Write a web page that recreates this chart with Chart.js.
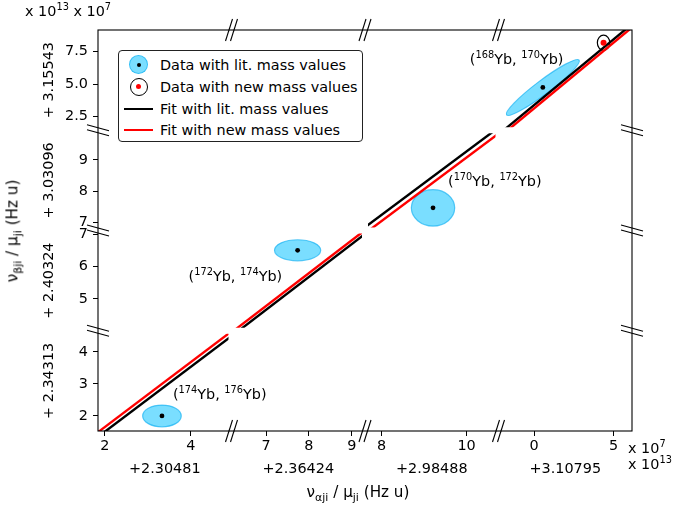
<!DOCTYPE html>
<html>
<head>
<meta charset="utf-8">
<script src="https://cdn.jsdelivr.net/npm/chart.js@4.4.0/dist/chart.umd.min.js"></script>
<style>
  html, body { margin: 0; padding: 0; background: #fff; }
  #wrap { position: relative; width: 673px; height: 506px; font-family: 'DejaVu Sans', sans-serif; color: #000; }
  #wrap canvas { position: absolute; left: 0; top: 0; }
  .txt { position: absolute; font-size: 14.4px; white-space: nowrap; line-height: 1; }
  .txt sup, .txt sub { font-size: 68%; line-height: 0; }
  .axlabel { font-size: 15.2px; }
  .axlabel sub { font-size: 72%; }
  #legend { position: absolute; left: 118px; top: 50px; width: 243px; height: 90px; border: 1px solid #222; border-radius: 4px; background: #fff; font-size: 14.4px; }
  #legend .row { position: absolute; left: 41px; height: 18px; line-height: 18px; white-space: nowrap; }
  #legend .sym { position: absolute; box-sizing: border-box; border-radius: 50%; }
  #legend .ln { position: absolute; left: 5px; width: 29px; height: 2px; }
</style>
</head>
<body>
<div id="wrap">
  <canvas id="kingPlot" width="673" height="506"></canvas>
  <div class="txt" style="left:25px; top:4px;">x 10<sup>13</sup> x 10<sup>7</sup></div>
  <div class="txt" style="left:628px; top:441px;">x 10<sup>7</sup></div>
  <div class="txt" style="left:628px; top:457px;">x 10<sup>13</sup></div>
  <div class="txt axlabel" style="left:13px; top:231px; transform: translate(-50%, -50%) rotate(-90deg);">ν<sub>βji</sub> / μ<sub>ji</sub> (Hz u)</div>
  <div class="txt axlabel" style="left:358px; top:493px; transform: translate(-50%, -50%);">ν<sub>αji</sub> / μ<sub>ji</sub> (Hz u)</div>
  <div id="legend">
    <div class="sym" style="left:10px; top:4px; width:19px; height:19px; background:rgba(0,191,255,0.52); border:1px solid rgba(0,170,240,0.6);"></div>
    <div class="sym" style="left:17.5px; top:11.5px; width:4px; height:4px; background:#000;"></div>
    <div class="row" style="top:5px;">Data with lit. mass values</div>
    <div class="sym" style="left:11px; top:26.5px; width:18px; height:18px; background:#fff; border:1.2px solid #000;"></div>
    <div class="sym" style="left:17px; top:32.5px; width:5px; height:5px; background:#f00;"></div>
    <div class="row" style="top:26.5px;">Data with new mass values</div>
    <div class="ln" style="top:56.5px; background:#000;"></div>
    <div class="row" style="top:49px;">Fit with lit. mass values</div>
    <div class="ln" style="top:77.5px; background:#f00;"></div>
    <div class="row" style="top:70px;">Fit with new mass values</div>
  </div>
</div>
<script>
// King plot with broken axes: 4 x panels, 4 y panels.
// Values in units of 1e7 Hz u, panel offsets in units of 1e13 Hz u.
const xOffsets = [2.30481, 2.36424, 2.98488, 3.10795];
const yOffsets = [2.34313, 2.40324, 3.03096, 3.15543];
const xRanges = [[1.84, 4.95], [6.19, 9.31], [7.61, 10.75], [-2.24, 6.16]];
const yRanges = [[1.53, 4.66], [4.02, 7.11], [6.75, 9.94], [1.46, 9.17]];
const xTicks = [[2, 4], [7, 8, 9], [8, 10], [0, 5]];
const yTicks = [[2, 3, 4], [5, 6, 7], [7, 8, 9], [2.5, 5.0, 7.5]];

// isotope pairs, one per panel
const pairA = ['174', '172', '170', '168'];
const pairB = ['176', '174', '172', '170'];

// data with literature mass values (centre, 1 sigma, correlation)
const litX = [3.33, 7.735, 9.21, 0.55];
const litY = [2.0, 6.50, 7.47, 4.75];
const litSigX = [0.45, 0.54, 0.51, 2.30];
const litSigY = [0.34, 0.325, 0.58, 2.15];
const litCorr = [0, 0, 0, 0.95];

// data with new mass values (only the one inside the plotted windows)
const newPanel = [3];
const newX = [4.37];
const newY = [8.19];
const newSigX = [0.39];
const newSigY = [0.58];

// linear fits, absolute units of 1e7 Hz u: pivot point and slope
const litFit = { x0: 2304812.07, y0: 2343131.58, slope: 1.0114101 };
const newFit = { x0: 2304812.35, y0: 2343132.01, slope: 1.0114096 };

const xIds = ['x1', 'x2', 'x3', 'x4'];
const yIds = ['y1', 'y2', 'y3', 'y4'];
const font = { family: "'DejaVu Sans', sans-serif", size: 14.4 };

// y value (panel units) of a fit at panel-local x
function fitY(fit, p, x) {
    return fit.y0 + fit.slope * (xOffsets[p] * 1e6 + x - fit.x0) - yOffsets[p] * 1e6;
}

// Builds the stacked axes of every panel
function buildScales() {
    var scales = {};
    xIds.forEach(function (id, i) {
        scales[id] = {
            type: 'linear', position: 'bottom', stack: 'xPanels',
            min: xRanges[i][0], max: xRanges[i][1],
            afterBuildTicks: s => { s.ticks = xTicks[i].map(v => ({ value: v })); },
            afterFit: s => { s.height = 75; },
            ticks: { font, color: '#000', padding: 2, maxRotation: 0, autoSkip: false, callback: v => String(v) },
            grid: { drawOnChartArea: false, tickLength: 5, color: '#000', lineWidth: 1 },
            border: { display: false },
            title: { display: true, text: '+' + xOffsets[i].toFixed(5), font, color: '#000', padding: { top: 0, bottom: 28.4 } }
        };
    });
    yIds.forEach(function (id, i) {
        scales[id] = {
            type: 'linear', position: 'left', stack: 'yPanels',
            min: yRanges[i][0], max: yRanges[i][1],
            afterBuildTicks: s => { s.ticks = yTicks[i].map(v => ({ value: v })); },
            afterFit: s => { s.width = 98; },
            ticks: { font, color: '#000', padding: 5, autoSkip: false, callback: v => (i === 3 ? v.toFixed(1) : String(v)) },
            grid: { drawOnChartArea: false, tickLength: 5, color: '#000', lineWidth: 1 },
            border: { display: false },
            title: { display: true, text: '+ ' + yOffsets[i].toFixed(5), font, color: '#000', padding: { top: 40.9, bottom: 0 } }
        };
    });
    return scales;
}

function buildDatasets() {
    var datasets = [];
    xIds.forEach(function (xid, p) {
        // clip inside the panel at inner breaks, keep outer frame
        var clip = { left: p === 0 ? 0 : -3, right: p === 3 ? 0 : -3, bottom: p === 0 ? 0 : -3, top: p === 3 ? 0 : -3 };
        datasets.push({
            label: 'Fit with lit. mass values', order: 2, showLine: true, pointRadius: 0,
            borderColor: '#000', borderWidth: 2.4, xAxisID: xid, yAxisID: yIds[p], clip,
            data: xRanges[p].map(x => ({ x, y: fitY(litFit, p, x) }))
        });
        datasets.push({
            label: 'Fit with new mass values', order: 1, showLine: true, pointRadius: 0,
            borderColor: '#f00', borderWidth: 2.4, xAxisID: xid, yAxisID: yIds[p], clip,
            data: xRanges[p].map(x => ({ x, y: fitY(newFit, p, x) }))
        });
        datasets.push({
            label: 'Data with lit. mass values', order: 0, pointRadius: 2.4, backgroundColor: '#000', borderWidth: 0,
            xAxisID: xid, yAxisID: yIds[p], data: [{ x: litX[p], y: litY[p] }]
        });
    });
    newPanel.forEach(function (p, k) {
        datasets.push({
            label: 'Data with new mass values', order: 0, pointRadius: 3, backgroundColor: '#f00', borderWidth: 0,
            xAxisID: xIds[p], yAxisID: yIds[p], data: [{ x: newX[k], y: newY[k] }]
        });
    });
    return datasets;
}

// error ellipse in one panel, sizes read through that panel's scales
function drawEllipse(chart, p, x, y, sx, sy, rho, fill, stroke) {
    var ctx = chart.ctx, xs = chart.scales[xIds[p]], ys = chart.scales[yIds[p]];
    var cx = xs.getPixelForValue(x), cy = ys.getPixelForValue(y);
    var a = Math.abs(xs.getPixelForValue(x + sx) - cx);
    var b = Math.abs(ys.getPixelForValue(y + sy) - cy);
    var c = -rho * a * b; // pixel y grows downwards
    var mid = (a * a + b * b) / 2, half = (a * a - b * b) / 2;
    var r = Math.sqrt(half * half + c * c);
    var ang = 0.5 * Math.atan2(2 * c, a * a - b * b);
    ctx.save();
    ctx.beginPath();
    ctx.rect(xs.left, ys.top, xs.right - xs.left, ys.bottom - ys.top);
    ctx.clip();
    ctx.beginPath();
    ctx.ellipse(cx, cy, Math.sqrt(mid + r), Math.sqrt(Math.max(mid - r, 0.01)), ang, 0, 2 * Math.PI);
    ctx.fillStyle = fill;
    ctx.fill();
    ctx.lineWidth = 1.2;
    ctx.strokeStyle = stroke;
    ctx.stroke();
    ctx.restore();
}

const ellipsePlugin = {
    id: 'errorEllipses',
    beforeDatasetsDraw(chart) {
        litX.forEach((x, p) => drawEllipse(chart, p, x, litY[p], litSigX[p], litSigY[p], litCorr[p],
            'rgba(0,191,255,0.52)', 'rgba(0,170,240,0.6)'));
        newPanel.forEach((p, k) => drawEllipse(chart, p, newX[k], newY[k], newSigX[k], newSigY[k], 0, '#fff', '#000'));
    }
};

// frame round all panels and the // marks at every break
const framePlugin = {
    id: 'brokenFrame',
    afterDraw(chart) {
        var ctx = chart.ctx, a = chart.chartArea;
        ctx.save();
        ctx.strokeStyle = '#000';
        ctx.lineWidth = 1.1;
        ctx.strokeRect(a.left, a.top, a.right - a.left, a.bottom - a.top);
        xIds.slice(0, -1).forEach(function (id) {
            var bx = chart.scales[id].right;
            [a.top, a.bottom].forEach(function (by) {
                [-2.5, 2.5].forEach(function (s) {
                    ctx.beginPath();
                    ctx.moveTo(bx + s - 3.5, by + 11);
                    ctx.lineTo(bx + s + 3.5, by - 11);
                    ctx.stroke();
                });
            });
        });
        yIds.slice(0, -1).forEach(function (id) {
            var by = chart.scales[id].top;
            [a.left, a.right].forEach(function (bx) {
                [-2.5, 2.5].forEach(function (s) {
                    ctx.beginPath();
                    ctx.moveTo(bx - 11, by + s - 3);
                    ctx.lineTo(bx + 11, by + s + 3);
                    ctx.stroke();
                });
            });
        });
        ctx.restore();
    }
};

var chart = new Chart(document.getElementById('kingPlot'), {
    type: 'scatter',
    data: { datasets: buildDatasets() },
    options: {
        responsive: false,
        animation: false,
        devicePixelRatio: 1,
        layout: { padding: { top: 30, right: 41, bottom: 0, left: 0 } },
        plugins: { legend: { display: false }, tooltip: { enabled: false } },
        scales: buildScales()
    },
    plugins: [ellipsePlugin, framePlugin]
});

// isotope pair labels next to each point
var labelShift = [[11, -17], [-109, 31], [15, -22], [-73, -23]];
litX.forEach(function (x, p) {
    var el = document.createElement('div');
    el.className = 'txt';
    el.innerHTML = '(<sup>' + pairA[p] + '</sup>Yb, <sup>' + pairB[p] + '</sup>Yb)';
    var px = chart.scales[xIds[p]].getPixelForValue(x);
    var py = chart.scales[yIds[p]].getPixelForValue(litY[p]);
    el.style.left = (px + labelShift[p][0]) + 'px';
    el.style.top = (py + labelShift[p][1] - 12.2) + 'px';
    document.getElementById('wrap').appendChild(el);
});
</script>
</body>
</html>
